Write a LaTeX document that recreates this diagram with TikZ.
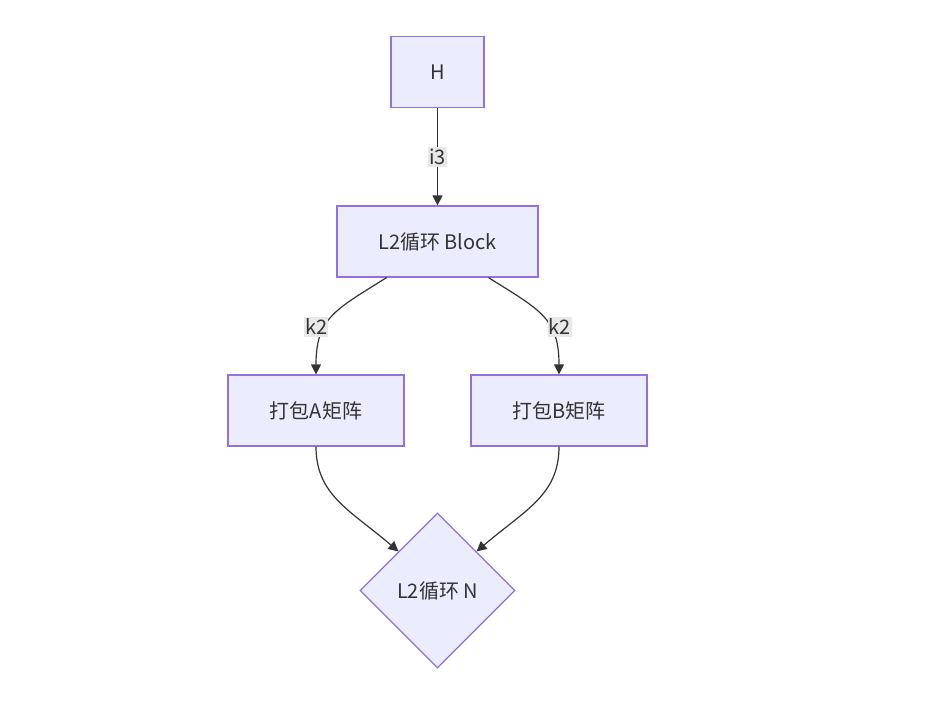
\documentclass[tikz,border=0pt]{standalone}
\usepackage{fontspec}
\setmainfont{Noto Sans CJK SC}
\usetikzlibrary{shapes.geometric,arrows.meta}
\definecolor{nodefill}{HTML}{ECECFF}
\definecolor{nodeline}{HTML}{9370DB}
\definecolor{edgeline}{HTML}{333333}
\definecolor{lblfill}{HTML}{E8E8E8}
\tikzset{
  box/.style={draw=nodeline, fill=nodefill, line width=1.2pt, minimum height=71pt, inner sep=0pt, font=\fontsize{20}{23}\selectfont, text=edgeline},
  decision/.style={diamond, draw=nodeline, fill=nodefill, line width=1.2pt, minimum width=155pt, minimum height=155pt, inner sep=0pt, font=\fontsize{20}{23}\selectfont, text=edgeline},
  flow/.style={draw=edgeline, line width=1.2pt, -{Triangle[length=10pt,width=10pt]}},
  lbl/.style={fill=lblfill, inner xsep=1pt, inner ysep=2pt, font=\fontsize{20}{23}\selectfont, text=edgeline}
}
\begin{document}
\begin{tikzpicture}[x=1pt,y=-1pt]
\useasboundingbox (0,0) rectangle (928,702);
% nodes
\node[box, minimum width=93pt] (h) at (437.5,72) {H};
\node[box, minimum width=201pt] (block) at (437.5,241.5) {L2循环 Block};
\node[box, minimum width=176pt] (packa) at (316,410.5) {打包A矩阵};
\node[box, minimum width=176pt] (packb) at (559,410.5) {打包B矩阵};
\node[decision] (loopn) at (437.5,590.5) {L2循环 N};
% edges
\draw[flow] (h.south) -- node[lbl] {i3} (block.north);
\draw[flow] ([xshift=-51pt]block.south) .. controls (335,310) and (316,318) .. node[lbl, pos=0.68, xshift=-6pt, yshift=6pt] {k2} (packa.north);
\draw[flow] ([xshift=51pt]block.south) .. controls (540,310) and (559,318) .. node[lbl, pos=0.68, xshift=7pt, yshift=6pt] {k2} (packb.north);
\draw[flow] (packa.south) .. controls (316,495) and (350,510) .. (loopn.north west);
\draw[flow] (packb.south) .. controls (559,495) and (525,510) .. (loopn.north east);
\end{tikzpicture}
\end{document}
